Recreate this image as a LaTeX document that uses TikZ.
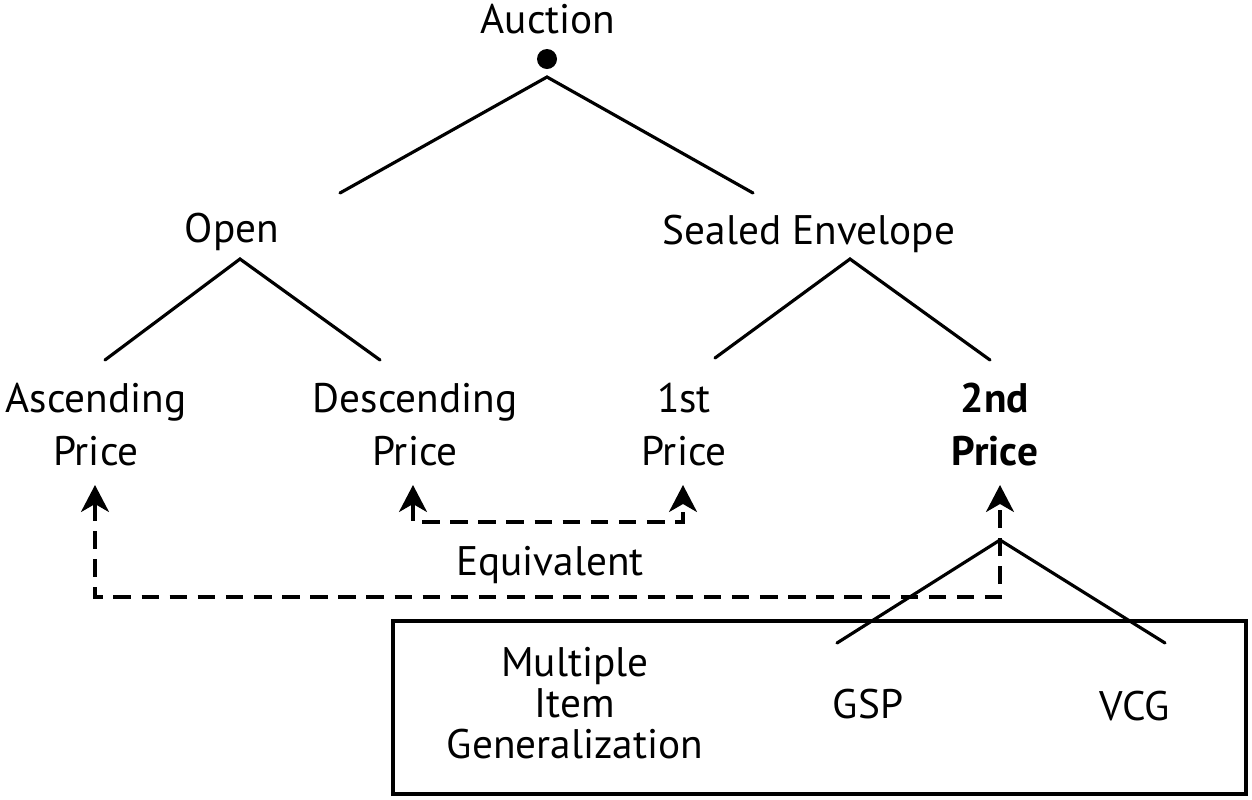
\documentclass[tikz,border=0pt]{standalone}
\usepackage{fontspec}
\setmainfont{PT Sans}
\usepackage{tikz}
\usetikzlibrary{arrows.meta}
\usetikzlibrary{positioning}

\tikzset{
    txt/.style={font=\fontsize{23.5}{30}\selectfont, inner sep=0pt, align=center, anchor=base},
    branch/.style={line width=1.8pt, line cap=round},
    equiv/.style={line width=1.8pt, dash pattern=on 10 off 6,
        {Stealth[length=5.4mm, width=5.6mm, inset=1.6mm]}-{Stealth[length=5.4mm, width=5.6mm, inset=1.6mm]}}
}

\begin{document}
\begin{tikzpicture}[x=0.02cm, y=-0.02cm]
        \useasboundingbox (0,0) rectangle (1252,799);

        \node[txt] (auction) at (548,33) {Auction};
        \fill (547,59) circle (10) coordinate (root);
        \node[txt] (open) at (232,242) {Open};
        \node[txt] (sealed) at (809,244) {Sealed Envelope};
        \node[txt] (asc) at (96,465) {Ascending\\Price};
        \node[txt] (desc) at (415,465) {Descending\\Price};
        \node[txt] (first) at (684,465) {1st\\Price};
        \node[txt, font=\fontsize{23.5}{30}\selectfont\bfseries] (second) at (995,465) {2nd\\Price};
        \node[txt] (eq) at (550,575) {Equivalent};

        % multiple item box
        \draw[line width=1.8pt] (393,621) rectangle (1246,794);
        \node[txt, font=\fontsize{23.5}{23.2}\selectfont] (multi) at (575,758) {Multiple\\Item\\Generalization};
        \node[txt] (gsp) at (868,718) {GSP};
        \node[txt] (vcg) at (1135,720) {VCG};

        % tree
        \coordinate (f0) at (547,77);
        \coordinate (f1) at (240,259);
        \coordinate (f2) at (850,259);
        \coordinate (f3) at (1000,540);
        \draw[branch] (340,193) -- (f0) -- (753,193);
        \draw[branch] (105,360) -- (f1) -- (380,360);
        \draw[branch] (715,358) -- (f2) -- (990,360);
        \draw[branch] (837,643) -- (f3) -- (1165,643);

        % equivalences
        \draw[equiv] (413,485) -- (413,522) -- (683,522) -- (683,485);
        \draw[equiv] (95,485) -- (95,597) -- (1000,597) -- (1000,485);
    \end{tikzpicture}
\end{document}
